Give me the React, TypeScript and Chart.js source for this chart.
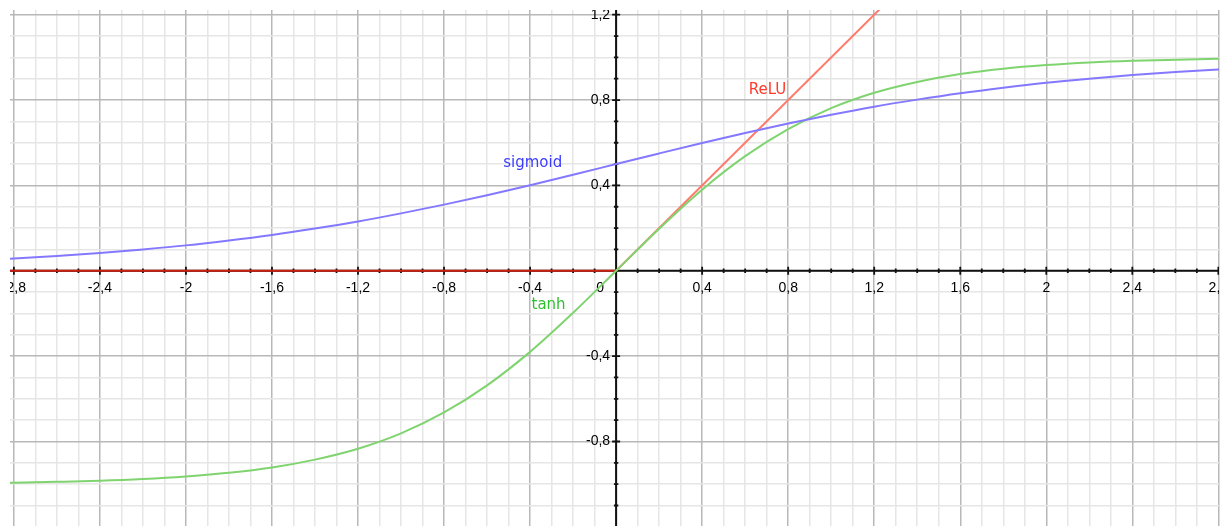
import React, { useEffect, useRef } from "react";
import { Chart, registerables } from "chart.js";

Chart.register(...registerables);

// sample positions
const xValues = [
  -3.0, -2.8, -2.6, -2.4, -2.2, -2.0, -1.8, -1.6, -1.4, -1.2, -1.0, -0.8, -0.6, -0.4, -0.2,
  0.0, 0.2, 0.4, 0.6, 0.8, 1.0, 1.2, 1.4, 1.6, 1.8, 2.0, 2.2, 2.4, 2.6, 2.8, 3.0,
];
const sigmoidValues = [
  0.047, 0.057, 0.069, 0.083, 0.1, 0.119, 0.142, 0.168, 0.198, 0.231, 0.269, 0.31, 0.354, 0.401, 0.45,
  0.5, 0.55, 0.599, 0.646, 0.69, 0.731, 0.769, 0.802, 0.832, 0.858, 0.881, 0.9, 0.917, 0.931, 0.943, 0.953,
];
const tanhValues = [
  -0.995, -0.993, -0.989, -0.984, -0.976, -0.964, -0.947, -0.922, -0.885, -0.834, -0.762, -0.664, -0.537, -0.38, -0.197,
  0.0, 0.197, 0.38, 0.537, 0.664, 0.762, 0.834, 0.885, 0.922, 0.947, 0.964, 0.976, 0.984, 0.989, 0.993, 0.995,
];
const reluX = [-3.0, 0.0, 1.5];
const reluY = [0.0, 0.0, 1.5];

const seriesNames = ["sigmoid", "tanh", "ReLU"];
// label anchor points (data coordinates)
const labelX = [-0.388, -0.314, 0.704];
const labelY = [0.506, -0.159, 0.847];

const X_MIN = -2.818;
const X_MAX = 2.803;
const Y_MIN = -1.196;
const Y_MAX = 1.222;

const isMajor = (v: number) => Math.abs(Math.round(v * 10)) % 4 === 0;
const fmt = (v: number) => String(+v.toFixed(1)).replace(".", ",");

const axesPlugin = {
  id: "centerAxes",
  beforeDatasetsDraw(chart: any) {
    const { ctx, chartArea: a } = chart;
    const xs = chart.scales.x;
    const ys = chart.scales.y;
    const ox = xs.getPixelForValue(0);
    const oy = ys.getPixelForValue(0);
    ctx.save();
    ctx.beginPath();
    ctx.rect(a.left, a.top, a.right - a.left, a.bottom - a.top);
    ctx.clip();
    ctx.strokeStyle = "#111";
    ctx.lineWidth = 2;
    ctx.beginPath();
    ctx.moveTo(a.left, oy);
    ctx.lineTo(a.right, oy);
    ctx.moveTo(ox, a.top);
    ctx.lineTo(ox, a.bottom);
    ctx.stroke();
    // tick marks
    ctx.lineWidth = 1.8;
    ctx.beginPath();
    for (const t of xs.ticks) {
      const v = t.value;
      if (Math.abs(v) < 1e-9) continue;
      const px = xs.getPixelForValue(v);
      const len = isMajor(v) ? 4 : 2.2;
      ctx.moveTo(px, oy - len);
      ctx.lineTo(px, oy + len);
    }
    for (const t of ys.ticks) {
      const v = t.value;
      if (Math.abs(v) < 1e-9) continue;
      const py = ys.getPixelForValue(v);
      const len = isMajor(v) ? 4 : 2.2;
      ctx.moveTo(ox - len, py);
      ctx.lineTo(ox + len, py);
    }
    ctx.stroke();
    // labels
    ctx.fillStyle = "#000";
    ctx.font = "14px 'Liberation Sans', Arial, sans-serif";
    ctx.textAlign = "center";
    ctx.textBaseline = "middle";
    for (const t of xs.ticks) {
      const v = t.value;
      if (!isMajor(v) || Math.abs(v) < 1e-9) continue;
      ctx.fillText(fmt(v), xs.getPixelForValue(v), oy + 17);
    }
    ctx.textAlign = "right";
    for (const t of ys.ticks) {
      const v = t.value;
      if (!isMajor(v) || Math.abs(v) < 1e-9) continue;
      ctx.fillText(fmt(v), ox - 6, ys.getPixelForValue(v));
    }
    ctx.textAlign = "center";
    ctx.fillText("0", ox - 16, oy + 17);
    ctx.restore();
  },
  afterDatasetsDraw(chart: any) {
    const { ctx } = chart;
    const xs = chart.scales.x;
    const ys = chart.scales.y;
    const colors = ["#3b3bff", "#2fbf2f", "#ff3a2a"];
    ctx.save();
    ctx.font = "15px 'DejaVu Sans', sans-serif";
    ctx.textAlign = "center";
    ctx.textBaseline = "middle";
    seriesNames.forEach((name, i) => {
      ctx.fillStyle = colors[i];
      ctx.fillText(name, xs.getPixelForValue(labelX[i]), ys.getPixelForValue(labelY[i]));
    });
    ctx.restore();
  },
};

export default function App() {
  const ref = useRef<HTMLCanvasElement | null>(null);
  useEffect(() => {
    document.body.style.margin = "0";
    const canvas = ref.current;
    if (!canvas) return;
    const gridColor = (c: any) => (isMajor(c.tick.value) ? "#b8b8b8" : "#e6e6e6");
    const gridWidth = (c: any) => (isMajor(c.tick.value) ? 1.5 : 1.5);
    const chart = new Chart(canvas, {
      type: "line",
      data: {
        datasets: [
          {
            label: seriesNames[0],
            data: xValues.map((x, i) => ({ x, y: sigmoidValues[i] })),
            borderColor: "#8478ff",
            borderWidth: 2,
            pointRadius: 0,
            cubicInterpolationMode: "monotone",
          },
          {
            label: seriesNames[1],
            data: xValues.map((x, i) => ({ x, y: tanhValues[i] })),
            borderColor: "#7fd46f",
            borderWidth: 2,
            pointRadius: 0,
            cubicInterpolationMode: "monotone",
          },
          {
            label: seriesNames[2],
            data: reluX.map((x, i) => ({ x, y: reluY[i] })),
            borderColor: "#ff7a6a",
            borderWidth: 2,
            pointRadius: 0,
            tension: 0,
            segment: {
              borderColor: (c: any) => (c.p0.parsed.x < 0 ? "#cc1f10" : "#ff7a6a"),
            },
          },
        ],
      },
      options: {
        responsive: false,
        animation: false,
        devicePixelRatio: 1,
        layout: { padding: { left: 10, right: 5, top: 10, bottom: 0 } },
        plugins: { legend: { display: false }, tooltip: { enabled: false } },
        scales: {
          x: {
            type: "linear",
            position: { y: 0 } as any,
            min: X_MIN,
            max: X_MAX,
            ticks: { display: false, stepSize: 0.1, maxTicksLimit: 1000, includeBounds: false },
            grid: { color: gridColor, lineWidth: gridWidth, drawTicks: false },
            border: { display: false },
          },
          y: {
            type: "linear",
            position: { x: 0 } as any,
            min: Y_MIN,
            max: Y_MAX,
            ticks: { display: false, stepSize: 0.1, maxTicksLimit: 1000, includeBounds: false },
            grid: { color: gridColor, lineWidth: gridWidth, drawTicks: false },
            border: { display: false },
          },
        },
      } as any,
      plugins: [axesPlugin],
    });
    return () => chart.destroy();
  }, []);
  return <canvas ref={ref} width={1224} height={526} style={{ display: "block" }} />;
}
